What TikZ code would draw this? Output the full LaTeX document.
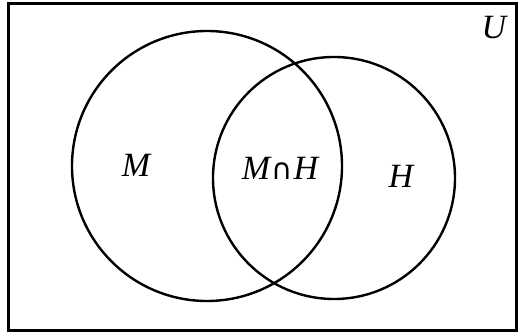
\documentclass[tikz,border=0pt]{standalone}
\usepackage{fontspec}
\setmainfont{Liberation Serif}
\newfontfamily\symfont{DejaVu Sans}
\begin{document}
\begin{tikzpicture}[x=1pt,y=-1pt,
  setline/.style={line width=2.4pt},
  lbl/.style={font=\fontsize{34}{36}\selectfont\itshape}]
\useasboundingbox (0,0) rectangle (519,334);
\draw[line width=3pt] (8,4) rectangle (516,330);
\draw[setline] (207,166) circle[radius=135];
\draw[setline] (334,178) circle[radius=121];
\node[lbl] (m) at (136,165) {M};
\node[lbl] (h) at (401,176) {H};
\node[lbl] (mh) at (280,168) {M\kern1pt{\upshape\symfont\fontsize{29}{31}\selectfont ∩}\kern1pt H};
\node[lbl] (u) at (494,28) {U};
\end{tikzpicture}
\end{document}
